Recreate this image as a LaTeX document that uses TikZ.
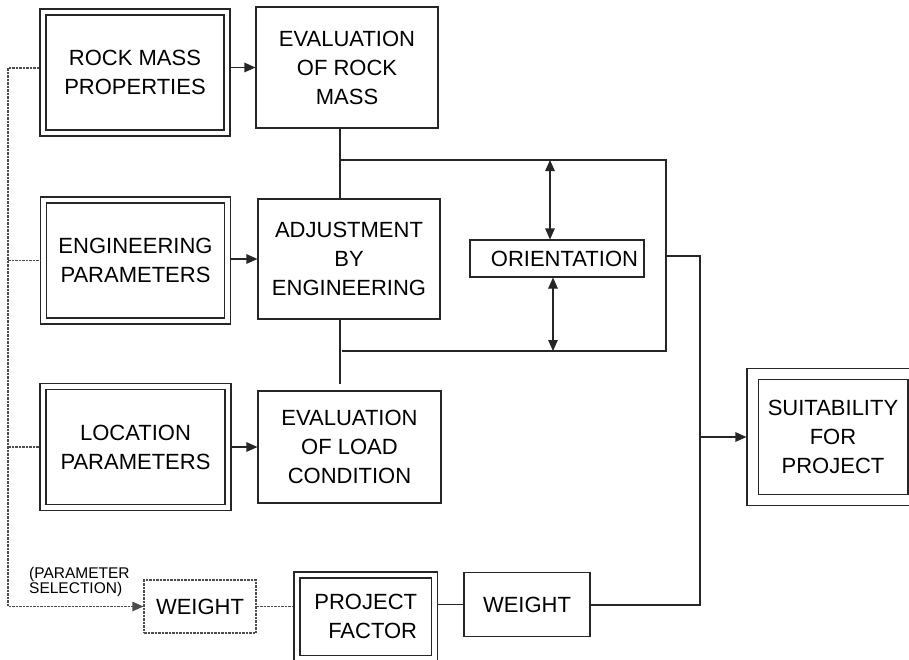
\documentclass[tikz,border=0pt]{standalone}
\usepackage{fontspec}
\setmainfont{Liberation Sans}
\usetikzlibrary{arrows.meta}
\begin{document}
\begin{tikzpicture}[x=1pt,y=-1pt,
  box/.style={draw=black!85, line width=1.1pt, align=center, inner sep=0pt, font=\fontsize{22}{29}\selectfont},
  dbox/.style={box, double=white, double distance=4.9pt},
  ln/.style={draw=black!85, line width=1.1pt},
  tip/.style={-{Triangle[length=11pt,width=9.5pt]}},
  arr/.style={ln, tip},
  darr/.style={ln, {Triangle[length=11pt,width=9.5pt]}-{Triangle[length=11pt,width=9.5pt]}},
  dsh/.style={draw=black!70, line width=1.1pt, dash pattern=on 2.5pt off 1pt}]
\useasboundingbox (0,0) rectangle (909,659);
\clip (0,0) rectangle (909,659);

% nodes
\node[dbox, minimum width=184pt, minimum height=121pt] (rmp) at (135,72.5) {ROCK MASS\\PROPERTIES};
\node[box, minimum width=182pt, minimum height=121pt] (evrm) at (347,67.5) {EVALUATION\\OF ROCK\\MASS};
\node[dbox, minimum width=184pt, minimum height=121pt] (eng) at (135.5,260.5) {ENGINEERING\\PARAMETERS};
\node[box, minimum width=182pt, minimum height=120pt] (adj) at (349,259) {ADJUSTMENT\\BY\\ENGINEERING};
\node[dbox, minimum width=185pt, minimum height=121pt] (loc) at (135.5,447) {LOCATION\\PARAMETERS};
\node[box, minimum width=183pt, minimum height=112pt] (evlc) at (349.5,447) {EVALUATION\\OF LOAD\\CONDITION};
\node[box, minimum width=174pt, minimum height=37pt, text width=162pt, align=right] (ori) at (557,258.5) {ORIENTATION};
\node[dbox, double distance=10pt, minimum width=161pt, minimum height=125.5pt] (suit) at (833,437) {SUITABILITY\\FOR\\PROJECT};
\node[box, draw=black!70, dash pattern=on 2.5pt off 1pt, minimum width=112pt, minimum height=53pt] (w1) at (200,606.5) {WEIGHT};
\node[dbox, minimum width=137.5pt, minimum height=83.7pt, align=right] (pf) at (365.75,616.85) {PROJECT\\FACTOR};
\node[box, minimum width=126pt, minimum height=64.5pt] (w2) at (527,604.5) {WEIGHT};
\node[font=\fontsize{15.5}{15}\selectfont, align=left, anchor=north west, inner sep=0pt] (psel) at (29,567) {(PARAMETER\\SELECTION)};

% coordinates
\coordinate (jt) at (340,160);
\coordinate (tr) at (666,160);
\coordinate (br) at (666,351);
\coordinate (bl) at (342,351);
\coordinate (ta) at (550,160);
\coordinate (ba) at (553,351);
\coordinate (mr) at (666,256);
\coordinate (mc) at (700,256);
\coordinate (bc) at (700,605);
\coordinate (dtop) at (8,68);
\coordinate (dbot) at (8,606.5);

% solid connectors
\draw[arr, shorten <=3pt] (rmp.east |- evrm.west) -- (evrm.west);
\draw[arr, shorten <=3pt] (eng.east |- adj.west) -- (adj.west);
\draw[arr, shorten <=3pt] (loc.east |- evlc.west) -- (evlc.west);
\draw[ln] (evrm.south -| jt) -- (adj.north -| jt);
\draw[ln, shorten >=6pt] (adj.south -| jt) -- (evlc.north -| jt);
\draw[ln] (jt) -- (tr) -- (br) -- (bl);
\draw[darr] (ta) -- (ta |- ori.north);
\draw[darr] (ba |- ori.south) -- (ba);
\draw[ln] (mr) -- (mc) -- (bc) -- (w2.east |- bc);
\draw[arr, shorten >=5.5pt] (mc |- suit.west) -- (suit.west);
\draw[ln, shorten <=3pt] (pf.east |- w2.west) -- (w2.west);

% dashed connectors
\draw[dsh, tip, shorten <=3pt] (rmp.west |- dtop) -- (dtop) -- (dbot) -- (w1.west);
\draw[dsh, shorten >=3pt] (dtop |- eng.west) -- (eng.west);
\draw[dsh, shorten >=3pt] (dtop |- loc.west) -- (loc.west);
\draw[dsh, shorten >=3pt] (w1.east) -- (w1.east -| pf.west);
\end{tikzpicture}
\end{document}
